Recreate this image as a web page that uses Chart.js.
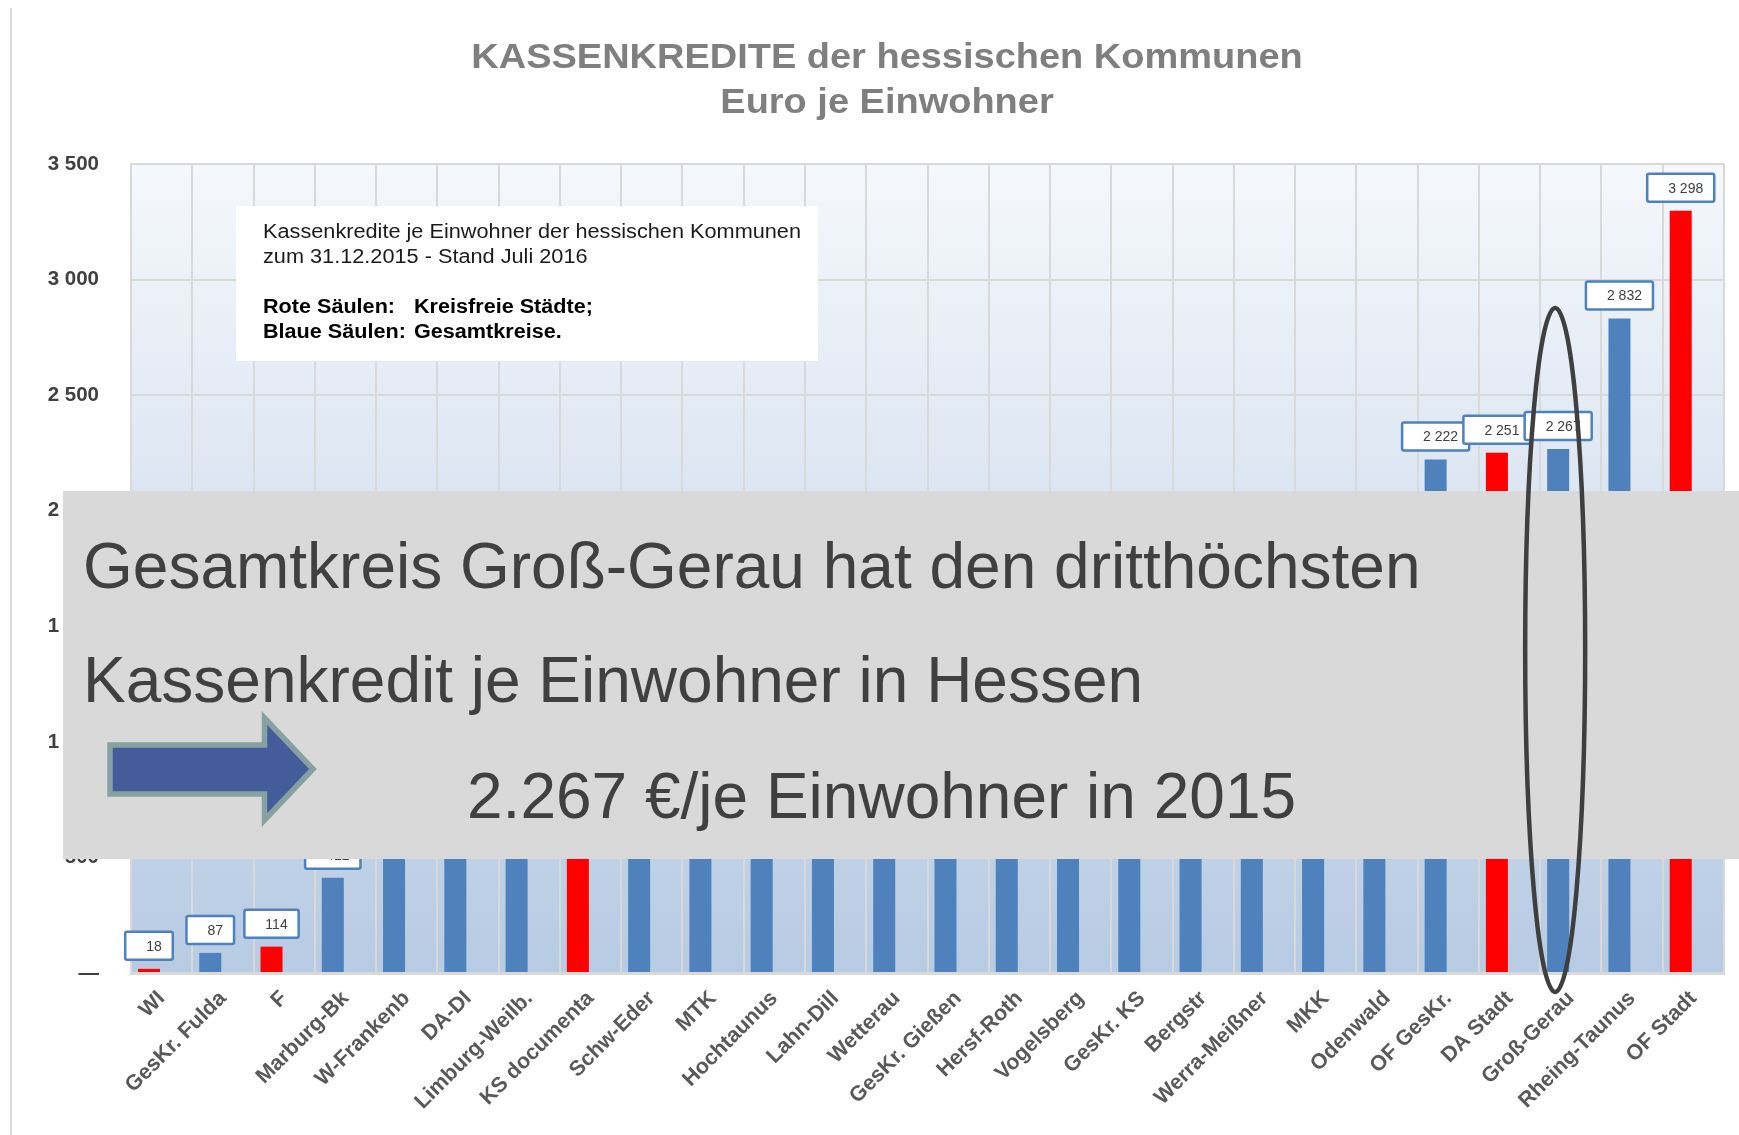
<!DOCTYPE html>
<html><head><meta charset="utf-8">
<script src="https://cdn.jsdelivr.net/npm/chart.js@4.4.1/dist/chart.umd.min.js"></script>
<style>html,body{margin:0;padding:0;background:#fff;overflow:hidden}#wrap{width:1739px;height:1135px;position:relative}</style>
</head><body><div id="wrap"><canvas id="c" width="1739" height="1135"></canvas></div>
<script>
const categories = ["WI","GesKr. Fulda","F","Marburg-Bk","W-Frankenb","DA-DI","Limburg-Weilb.","KS documenta","Schw-Eder","MTK","Hochtaunus","Lahn-Dill","Wetterau","GesKr. Gießen","Hersf-Roth","Vogelsberg","GesKr. KS","Bergstr","Werra-Meißner","MKK","Odenwald","OF GesKr.","DA Stadt","Groß-Gerau","Rheing-Taunus","OF Stadt"];
const values = [18,87,114,412,560,640,720,800,880,950,1020,1090,1160,1230,1300,1370,1440,1510,1600,1700,1850,2222,2251,2267,2832,3298];
// S = kreisfreie Stadt (rot), K = Gesamtkreis (blau)
const kinds = ["S","K","S","K","K","K","K","S","K","K","K","K","K","K","K","K","K","K","K","K","K","K","S","K","K","S"];
const yMin = 0, yMax = 3500, yStep = 500;
const titleLines = ["KASSENKREDITE der hessischen Kommunen","Euro je Einwohner"];
const noteLines = ["Kassenkredite je Einwohner der hessischen Kommunen","zum 31.12.2015 - Stand Juli 2016"];
const noteBold = [["Rote Säulen:","Kreisfreie Städte;"],["Blaue Säulen:","Gesamtkreise."]];
const overlayLines = ["Gesamtkreis Groß-Gerau hat den dritthöchsten","Kassenkredit je Einwohner in Hessen","2.267 €/je Einwohner in 2015"];
const highlightIndex = 23;

const FONT = "'Liberation Sans', Arial, sans-serif";
const RED = "#ff0000", BLUE = "#4f81bd";

function fmt(v){
  if (v === 0) return "—";
  if (v >= 1000) return Math.floor(v/1000) + " " + String(v % 1000).padStart(3,"0");
  return String(v);
}

function txt(ctx, s, x, y, font, color, align, sx){
  ctx.save();
  ctx.font = font; ctx.fillStyle = color; ctx.textAlign = align || "left"; ctx.textBaseline = "alphabetic";
  ctx.translate(x, y); ctx.scale(sx || 1, 1);
  ctx.fillText(s, 0, 0);
  ctx.restore();
}

const decor = {
  id: "decor",
  beforeDraw(chart){
    const ctx = chart.ctx, a = chart.chartArea;
    ctx.save();
    ctx.fillStyle = "#fff"; ctx.fillRect(0,0,chart.width,chart.height);
    ctx.strokeStyle = "#d9d9d9"; ctx.lineWidth = 2;
    ctx.beginPath(); ctx.moveTo(11,8); ctx.lineTo(11,chart.height); ctx.stroke();
    const g = ctx.createLinearGradient(0,a.top,0,a.bottom);
    g.addColorStop(0,"#f5f8fc"); g.addColorStop(1,"#b7cbe3");
    ctx.fillStyle = g; ctx.fillRect(a.left,a.top,a.right-a.left,a.bottom-a.top);
    ctx.restore();
  },
  afterDatasetsDraw(chart){
    const ctx = chart.ctx;
    const meta = chart.getDatasetMeta(0);
    ctx.save();
    ctx.font = "14px " + FONT;
    meta.data.forEach((bar, i) => {
      const s = fmt(values[i]);
      const tw = ctx.measureText(s).width;
      const w = tw + 32, h = 28;
      const x0 = bar.x - w/2, y1 = bar.y - 9, y0 = y1 - h;
      ctx.beginPath(); ctx.roundRect(x0, y0, w, h, 2);
      ctx.fillStyle = "#fff"; ctx.fill();
      ctx.lineWidth = 2.5; ctx.strokeStyle = BLUE; ctx.stroke();
      ctx.fillStyle = "#404040"; ctx.textAlign = "right"; ctx.textBaseline = "middle";
      ctx.fillText(s, x0 + w - 11, y0 + h/2 + 1);
    });
    ctx.restore();
  },
  afterDraw(chart){
    const ctx = chart.ctx;
    // title
    txt(ctx, titleLines[0], 887, 68, "bold 35px " + FONT, "#7f7f7f", "center", 1.085);
    txt(ctx, titleLines[1], 887, 113, "bold 35px " + FONT, "#7f7f7f", "center", 1.085);
    // note box
    ctx.save(); ctx.fillStyle = "#fff"; ctx.fillRect(236,206,582,155); ctx.restore();
    txt(ctx, noteLines[0], 263, 238, "20px " + FONT, "#1a1a1a", "left", 1.085);
    txt(ctx, noteLines[1], 263, 263, "20px " + FONT, "#1a1a1a", "left", 1.085);
    txt(ctx, noteBold[0][0], 263, 313, "bold 20px " + FONT, "#000", "left", 1.08);
    txt(ctx, noteBold[0][1], 414, 313, "bold 20px " + FONT, "#000", "left", 1.08);
    txt(ctx, noteBold[1][0], 263, 338, "bold 20px " + FONT, "#000", "left", 1.08);
    txt(ctx, noteBold[1][1], 414, 338, "bold 20px " + FONT, "#000", "left", 1.08);
    // overlay
    ctx.save(); ctx.fillStyle = "#d9d9d9"; ctx.fillRect(63,491,chart.width-63,368); ctx.restore();
    txt(ctx, overlayLines[0], 83, 588, "64px " + FONT, "#404040", "left", 1);
    txt(ctx, overlayLines[1], 83, 702, "64px " + FONT, "#404040", "left", 1);
    txt(ctx, overlayLines[2], 467, 818, "64px " + FONT, "#404040", "left", 1);
    // arrow
    ctx.save();
    ctx.beginPath();
    ctx.moveTo(110,745); ctx.lineTo(264.5,745); ctx.lineTo(264.5,718); ctx.lineTo(313,769);
    ctx.lineTo(264.5,820); ctx.lineTo(264.5,794); ctx.lineTo(110,794); ctx.closePath();
    ctx.fillStyle = "#445c9a"; ctx.fill();
    ctx.lineWidth = 5.5; ctx.strokeStyle = "#87a1a3"; ctx.lineJoin = "miter"; ctx.stroke();
    ctx.restore();
    // ellipse around highlighted bar
    const hb = chart.getDatasetMeta(0).data[highlightIndex];
    ctx.save();
    ctx.beginPath(); ctx.ellipse(hb.x - 3, 650, 30, 342, 0, 0, Math.PI*2);
    ctx.lineWidth = 4.5; ctx.strokeStyle = "#3f3f3f"; ctx.stroke();
    ctx.restore();
  }
};

new Chart(document.getElementById("c"), {
  type: "bar",
  data: {
    labels: categories,
    datasets: [
      { data: values, backgroundColor: kinds.map(k => k === "S" ? RED : BLUE), borderWidth: 0 },
      { data: categories.map(() => null), backgroundColor: "rgba(0,0,0,0)" }
    ]
  },
  options: {
    responsive: false, animation: false, devicePixelRatio: 1,
    categoryPercentage: 0.826, barPercentage: 0.87,
    layout: { padding: { left: 0, right: 15, top: 164, bottom: 0 } },
    plugins: { legend: { display: false }, tooltip: { enabled: false }, title: { display: false } },
    scales: {
      x: {
        grid: { color: "#d9d9d9", lineWidth: 2, offset: true, drawTicks: false },
        border: { color: "#d9d9d9", width: 3 },
        ticks: { minRotation: 45, maxRotation: 45, autoSkip: false, padding: 13, color: "#595959",
                 font: { family: FONT, size: 21.5, weight: "bold" } },
        afterFit(s){ s.height = 162; }
      },
      y: {
        min: yMin, max: yMax,
        grid: { color: "#d9d9d9", lineWidth: 2, drawTicks: false },
        border: { color: "#d9d9d9", width: 2 },
        ticks: { stepSize: yStep, padding: 32, color: "#404040", callback: v => fmt(v),
                 font: { family: FONT, size: 20.5, weight: "bold" } },
        afterFit(s){ s.width = 131; }
      }
    }
  },
  plugins: [decor]
});
</script></body></html>
